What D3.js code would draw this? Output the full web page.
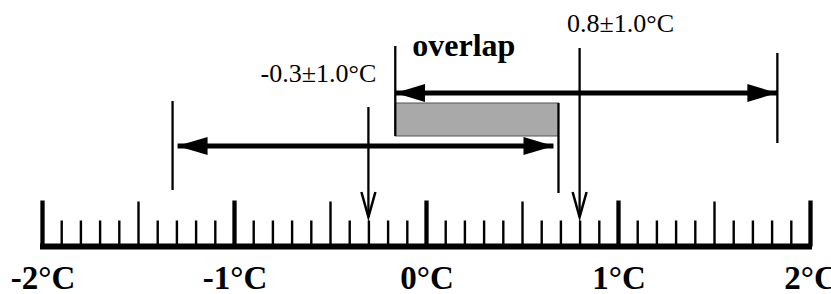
<!DOCTYPE html>
<html>
<head>
<meta charset="utf-8">
<script src="https://cdn.jsdelivr.net/npm/d3@7"></script>
<style>
	body { margin: 0; background: #fff; }
	text { font-family: "Liberation Serif", "Times New Roman", serif; }
</style>
</head>
<body>
<script>
// two measurements, each with its error bar
var labels = ["-0.3±1.0°C", "0.8±1.0°C"];
var means = [-0.3, 0.8];
var lows = [-1.32, -0.16];
var highs = [0.69, 1.83];

var majorTicks = [-2, -1, 0, 1, 2];
var tickLabels = ["-2°C", "-1°C", "0°C", "1°C", "2°C"];
var halfTicks = [-1.5, -0.5, 0.5, 1.5];

var w = 831;
var h = 294;
var baseY = 246.5;

var x = d3.scaleLinear().domain([-2, 2]).range([42, 810]);

var svg = d3.select("body")
			.append("svg")
			.attr("width", w)
			.attr("height", h);

var defs = svg.append("defs");
defs.append("marker")
	.attr("id", "head")
	.attr("viewBox", "0 0 30 18")
	.attr("refX", 30)
	.attr("refY", 9)
	.attr("markerWidth", 30)
	.attr("markerHeight", 18)
	.attr("markerUnits", "userSpaceOnUse")
	.attr("orient", "auto-start-reverse")
	.append("path")
	.attr("d", "M0,0 L30,9 L0,18 Z")
	.attr("fill", "#000");

// ruler
var minorTicks = d3.range(-20, 21).map(function(i) { return i / 10; })
	.filter(function(d) { return Math.abs(d * 2 - Math.round(d * 2)) > 1e-6; });

var minorAxis = d3.axisTop(x).tickValues(minorTicks).tickSize(26).tickSizeOuter(0).tickFormat("");
var halfAxis = d3.axisTop(x).tickValues(halfTicks).tickSize(45).tickSizeOuter(0).tickFormat("");
var majorAxis = d3.axisTop(x).tickValues(majorTicks).tickSize(46).tickSizeOuter(0).tickFormat("");

[[minorAxis, 2.4], [halfAxis, 2.4], [majorAxis, 4.3]].forEach(function(a) {
	var g = svg.append("g")
		.attr("transform", "translate(0," + baseY + ")")
		.call(a[0]);
	g.select(".domain").remove();
	g.selectAll("line").attr("stroke", "#000").attr("stroke-width", a[1]);
});

svg.append("line")
	.attr("x1", x(-2) - 2)
	.attr("x2", x(2) + 2)
	.attr("y1", baseY)
	.attr("y2", baseY)
	.attr("stroke", "#000")
	.attr("stroke-width", 6);

svg.selectAll("text.tick-label")
	.data(tickLabels)
	.enter()
	.append("text")
	.attr("class", "tick-label")
	.text(function(d) { return d; })
	.attr("x", function(d, i) { return x(majorTicks[i]) + 1; })
	.attr("y", 289)
	.attr("text-anchor", "middle")
	.attr("font-weight", "bold")
	.attr("font-size", "33px")
	.attr("fill", "#000");

// overlap box
var ovLo = d3.max(lows);
var ovHi = d3.min(highs);
svg.append("rect")
	.attr("x", x(ovLo))
	.attr("y", 103)
	.attr("width", x(ovHi) - x(ovLo))
	.attr("height", 33)
	.attr("fill", "#a9a9a9")
	.attr("stroke", "#555")
	.attr("stroke-width", 1);

svg.append("text")
	.text("overlap")
	.attr("x", x(ovLo) + 17)
	.attr("y", 56)
	.attr("font-weight", "bold")
	.attr("font-size", "32px")
	.attr("fill", "#000");

// per measurement layout: arrow y, bracket tops/bottoms, arrow inset, label offset
var arrowY = [146, 93];
var leftTop = [101, 46];
var leftBot = [190, 136];
var rightTop = [103, 53];
var rightBot = [193, 143];
var centerTop = [107, 48];
var inset = [5, 0];
var labelDx = [-50, 41];
var labelY = [82, 32];

means.forEach(function(m, i) {
	var line = function(x1, y1, x2, y2, sw) {
		return svg.append("line")
			.attr("x1", x1).attr("y1", y1)
			.attr("x2", x2).attr("y2", y2)
			.attr("stroke", "#000")
			.attr("stroke-width", sw);
	};
	line(x(lows[i]), leftTop[i], x(lows[i]), leftBot[i], 2.3);
	line(x(highs[i]), rightTop[i], x(highs[i]), rightBot[i], 2.3);

	line(x(lows[i]) + inset[i], arrowY[i], x(highs[i]) - inset[i], arrowY[i], 5)
		.attr("marker-start", "url(#head)")
		.attr("marker-end", "url(#head)");

	// pointer to the ruler
	var cx = x(m);
	line(cx, centerTop[i], cx, 217, 2.3);
	svg.append("path")
		.attr("d", "M" + (cx - 7) + ",192 L" + cx + ",217 L" + (cx + 7) + ",192")
		.attr("fill", "none")
		.attr("stroke", "#000")
		.attr("stroke-width", 2.5);

	svg.append("text")
		.text(labels[i])
		.attr("x", cx + labelDx[i])
		.attr("y", labelY[i])
		.attr("text-anchor", "middle")
		.attr("font-size", "26px")
		.attr("fill", "#000");
});
</script>
</body>
</html>
